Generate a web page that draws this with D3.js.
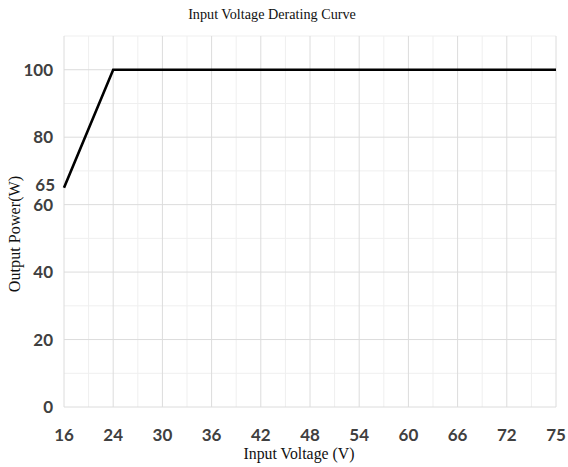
<!DOCTYPE html>
<html>
<head>
<meta charset="utf-8">
<script src="https://cdn.jsdelivr.net/npm/d3@7/dist/d3.min.js"></script>
<style>
  body { margin: 0; background: #fff; }
  svg { display: block; }
</style>
</head>
<body>
<div id="chart"></div>
<script>
// data
const voltages = ["16", "24", "30", "36", "42", "48", "54", "60", "66", "72", "75"];
const curveVolts = ["16", "24", "75"];
const curvePower = [65, 100, 100];
const yTicks = [0, 20, 40, 60, 80, 100];
const extraTick = 65;

const W = 568, H = 467;
const margin = { top: 36, right: 12, bottom: 60, left: 64 };
const width = W - margin.left - margin.right;
const height = H - margin.top - margin.bottom;

const svg = d3.select("#chart").append("svg")
  .attr("width", W)
  .attr("height", H);

const g = svg.append("g")
  .attr("transform", "translate(" + margin.left + "," + margin.top + ")");

const x = d3.scalePoint()
  .domain(voltages)
  .range([0, width]);

const y = d3.scaleLinear()
  .domain([0, 110])
  .range([height, 0]);

// minor grid (half steps)
const step = x.step();
const minorX = voltages.slice(0, -1).map(v => x(v) + step / 2);
g.selectAll(".minor-x").data(minorX).enter().append("line")
  .attr("x1", d => d).attr("x2", d => d)
  .attr("y1", 0).attr("y2", height)
  .attr("stroke", "#efefef").attr("stroke-width", 1);

g.selectAll(".minor-y").data(d3.range(10, 111, 20)).enter().append("line")
  .attr("x1", 0).attr("x2", width)
  .attr("y1", d => y(d)).attr("y2", d => y(d))
  .attr("stroke", "#efefef").attr("stroke-width", 1);

// major grid
g.selectAll(".major-x").data(voltages).enter().append("line")
  .attr("x1", d => x(d)).attr("x2", d => x(d))
  .attr("y1", 0).attr("y2", height)
  .attr("stroke", "#dcdcdc").attr("stroke-width", 1);

g.selectAll(".major-y").data(yTicks).enter().append("line")
  .attr("x1", 0).attr("x2", width)
  .attr("y1", d => y(d)).attr("y2", d => y(d))
  .attr("stroke", "#dcdcdc").attr("stroke-width", 1);

// x tick labels
g.selectAll(".xl").data(voltages).enter().append("text")
  .attr("x", d => x(d))
  .attr("y", height + 34)
  .attr("text-anchor", "middle")
  .style("font-family", "Lato, sans-serif")
  .style("font-weight", "bold")
  .style("font-size", "17px")
  .attr("fill", "#404040")
  .text(d => d);

// y tick labels
g.selectAll(".yl").data(yTicks).enter().append("text")
  .attr("x", -11)
  .attr("y", d => y(d))
  .attr("dy", "0.36em")
  .attr("text-anchor", "end")
  .style("font-family", "Lato, sans-serif")
  .style("font-weight", "bold")
  .style("font-size", "17px")
  .attr("fill", "#404040")
  .text(d => d);

g.append("text")
  .attr("x", -9)
  .attr("y", y(extraTick) - 3)
  .attr("dy", "0.36em")
  .attr("text-anchor", "end")
  .style("font-family", "Lato, sans-serif")
  .style("font-weight", "bold")
  .style("font-size", "17px")
  .attr("fill", "#404040")
  .text(extraTick);

// derating curve
const line = d3.line()
  .x((d, i) => x(curveVolts[i]))
  .y(d => y(d));

g.append("path")
  .datum(curvePower)
  .attr("d", line)
  .attr("fill", "none")
  .attr("stroke", "#000")
  .attr("stroke-width", 2.6)
  .attr("stroke-linejoin", "miter");

// titles
svg.append("text")
  .attr("x", 272)
  .attr("y", 19)
  .attr("text-anchor", "middle")
  .style("font-family", "'Liberation Serif', 'Times New Roman', serif")
  .style("font-size", "14.2px")
  .attr("fill", "#111")
  .text("Input Voltage Derating Curve");

svg.append("text")
  .attr("x", 299)
  .attr("y", 459)
  .attr("text-anchor", "middle")
  .style("font-family", "'Liberation Serif', 'Times New Roman', serif")
  .style("font-size", "15.8px")
  .attr("fill", "#111")
  .text("Input Voltage (V)");

svg.append("text")
  .attr("transform", "translate(20,234) rotate(-90)")
  .attr("text-anchor", "middle")
  .style("font-family", "'Liberation Serif', 'Times New Roman', serif")
  .style("font-size", "16.2px")
  .attr("fill", "#111")
  .text("Output Power(W)");
</script>
</body>
</html>
